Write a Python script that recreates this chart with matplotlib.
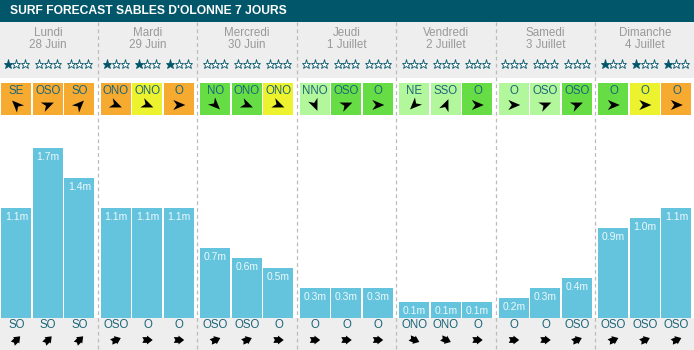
import numpy as np
import matplotlib.pyplot as plt
from matplotlib.patches import Rectangle, Polygon

plt.rcParams['font.family'] = ['Liberation Sans', 'DejaVu Sans']

# ---- données ----
title = "SURF FORECAST SABLES D'OLONNE 7 JOURS"
days = ["Lundi", "Mardi", "Mercredi", "Jeudi", "Vendredi", "Samedi", "Dimanche"]
dates = ["28 Juin", "29 Juin", "30 Juin", "1 Juillet", "2 Juillet", "3 Juillet", "4 Juillet"]
stars = [1, 0, 0, 1, 1, 1, 0, 0, 0, 0, 0, 0, 0, 0, 0, 0, 0, 0, 1, 1, 1]
wind_dir = ["SE", "OSO", "SO", "ONO", "ONO", "O", "NO", "ONO", "ONO",
            "NNO", "OSO", "O", "NE", "SSO", "O", "O", "OSO", "OSO", "O", "O", "O"]
wind_force = ["fort", "fort", "fort", "fort", "moyen", "fort", "faible", "faible", "moyen",
              "calme", "faible", "faible", "calme", "calme", "faible",
              "calme", "calme", "faible", "faible", "moyen", "fort"]
swell_h = [1.1, 1.7, 1.4, 1.1, 1.1, 1.1, 0.7, 0.6, 0.5, 0.3, 0.3, 0.3,
           0.1, 0.1, 0.1, 0.2, 0.3, 0.4, 0.9, 1.0, 1.1]
swell_dir = ["SO", "SO", "SO", "OSO", "O", "O", "OSO", "OSO", "O", "O", "O", "O",
             "ONO", "ONO", "O", "O", "O", "OSO", "OSO", "OSO", "OSO"]

force_col = {"fort": "#f6aa30", "moyen": "#ecf22e", "faible": "#66dd44", "calme": "#b3f79c"}
bearing = {"N": 0, "NNE": 22.5, "NE": 45, "ENE": 67.5, "E": 90, "ESE": 112.5, "SE": 135,
           "SSE": 157.5, "S": 180, "SSO": 202.5, "SO": 225, "OSO": 247.5, "O": 270,
           "ONO": 292.5, "NO": 315, "NNO": 337.5}

W, H = 694, 350
pitch, slot_w, slot_step = 99.5, 30, 31.5
base_y = 318
teal = "#02566a"
txt_col = "#1c6579"

fig = plt.figure(figsize=(W / 100, H / 100), dpi=100)
bg = fig.add_axes([0, 0, 1, 1])
bg.set_xlim(0, W)
bg.set_ylim(H, 0)
bg.axis("off")

# bandeaux de fond
bg.add_patch(Rectangle((0, 0), W, 22, color=teal, lw=0))
bg.add_patch(Rectangle((0, 22), W, 56, color="#eeeeee", lw=0))
bg.add_patch(Rectangle((0, base_y), W, H - base_y, color="#eeeeee", lw=0))
bg.text(10, 11.5, title, color="white", fontsize=8.7, fontweight="bold", va="center")

# séparateurs des jours
for i in range(1, 7):
    x = pitch * i - 1.8
    bg.plot([x, x], [22, H], color="#bbbbbb", lw=0.9, ls=(0, (3, 2.5)))


def arrow(ax, cx, cy, deg, shape, size):
    t = np.radians(deg + 180)
    dx, dy = np.sin(t), -np.cos(t)
    pts = np.array(shape) * size
    rot = np.column_stack([pts[:, 0] * dx - pts[:, 1] * dy, pts[:, 0] * dy + pts[:, 1] * dx])
    ax.add_patch(Polygon(rot + [cx, cy], closed=True, color="black", lw=0))


wind_shape = [(1.0, 0), (-0.9, 0.8), (-0.35, 0), (-0.9, -0.8)]
swell_shape = [(-1.0, -0.55), (-0.1, -0.55), (-0.1, -0.85), (1.0, 0), (-0.1, 0.85),
               (-0.1, 0.55), (-1.0, 0.55), (-0.7, 0)]

n = len(swell_h)
xc = np.array([pitch * (k // 3) + 1.5 + slot_step * (k % 3) + slot_w / 2 for k in range(n)])

for i in range(7):
    c = pitch * i + 48
    bg.text(c, 33.5, days[i], color="#999999", fontsize=8.4, ha="center", va="center")
    bg.text(c, 45.5, dates[i], color="#999999", fontsize=8.4, ha="center", va="center")

for k in range(n):
    x = xc[k]
    # étoiles : pleines puis vides
    for j in range(3):
        full = j < stars[k]
        bg.plot(x + (j - 1) * 8.6, 63.5, marker="*", ms=6.6, mew=0.6, mec=teal,
                mfc=teal if full else "white", ls="none")
    # vent
    bg.add_patch(Rectangle((x - slot_w / 2, 83), slot_w, 32, color=force_col[wind_force[k]], lw=0))
    bg.text(x, 91, wind_dir[k], color=txt_col, fontsize=8.3, ha="center", va="center")
    arrow(bg, x, 105, bearing[wind_dir[k]], wind_shape, 6.3)
    # houle
    bg.text(x, 325.5, swell_dir[k], color=txt_col, fontsize=8.3, ha="center", va="center")
    arrow(bg, x, 340, bearing[swell_dir[k]], swell_shape, 5.2)

# barres de houle (100 px par mètre)
ax = fig.add_axes([0, (H - base_y) / H, 1, 200 / H])
ax.set_xlim(0, W)
ax.set_ylim(0, 2.0)
ax.axis("off")
ax.patch.set_alpha(0)
bar_h = np.maximum(swell_h, 0.16)
ax.bar(xc, bar_h, width=slot_w, color="#64c4de", lw=0)
for x, h, v in zip(xc, bar_h, swell_h):
    ax.text(x, h - 0.09, f"{v:.1f}m", color="#eef8fb", fontsize=7.5, ha="center", va="center")

fig.savefig("out.png", dpi=100)
